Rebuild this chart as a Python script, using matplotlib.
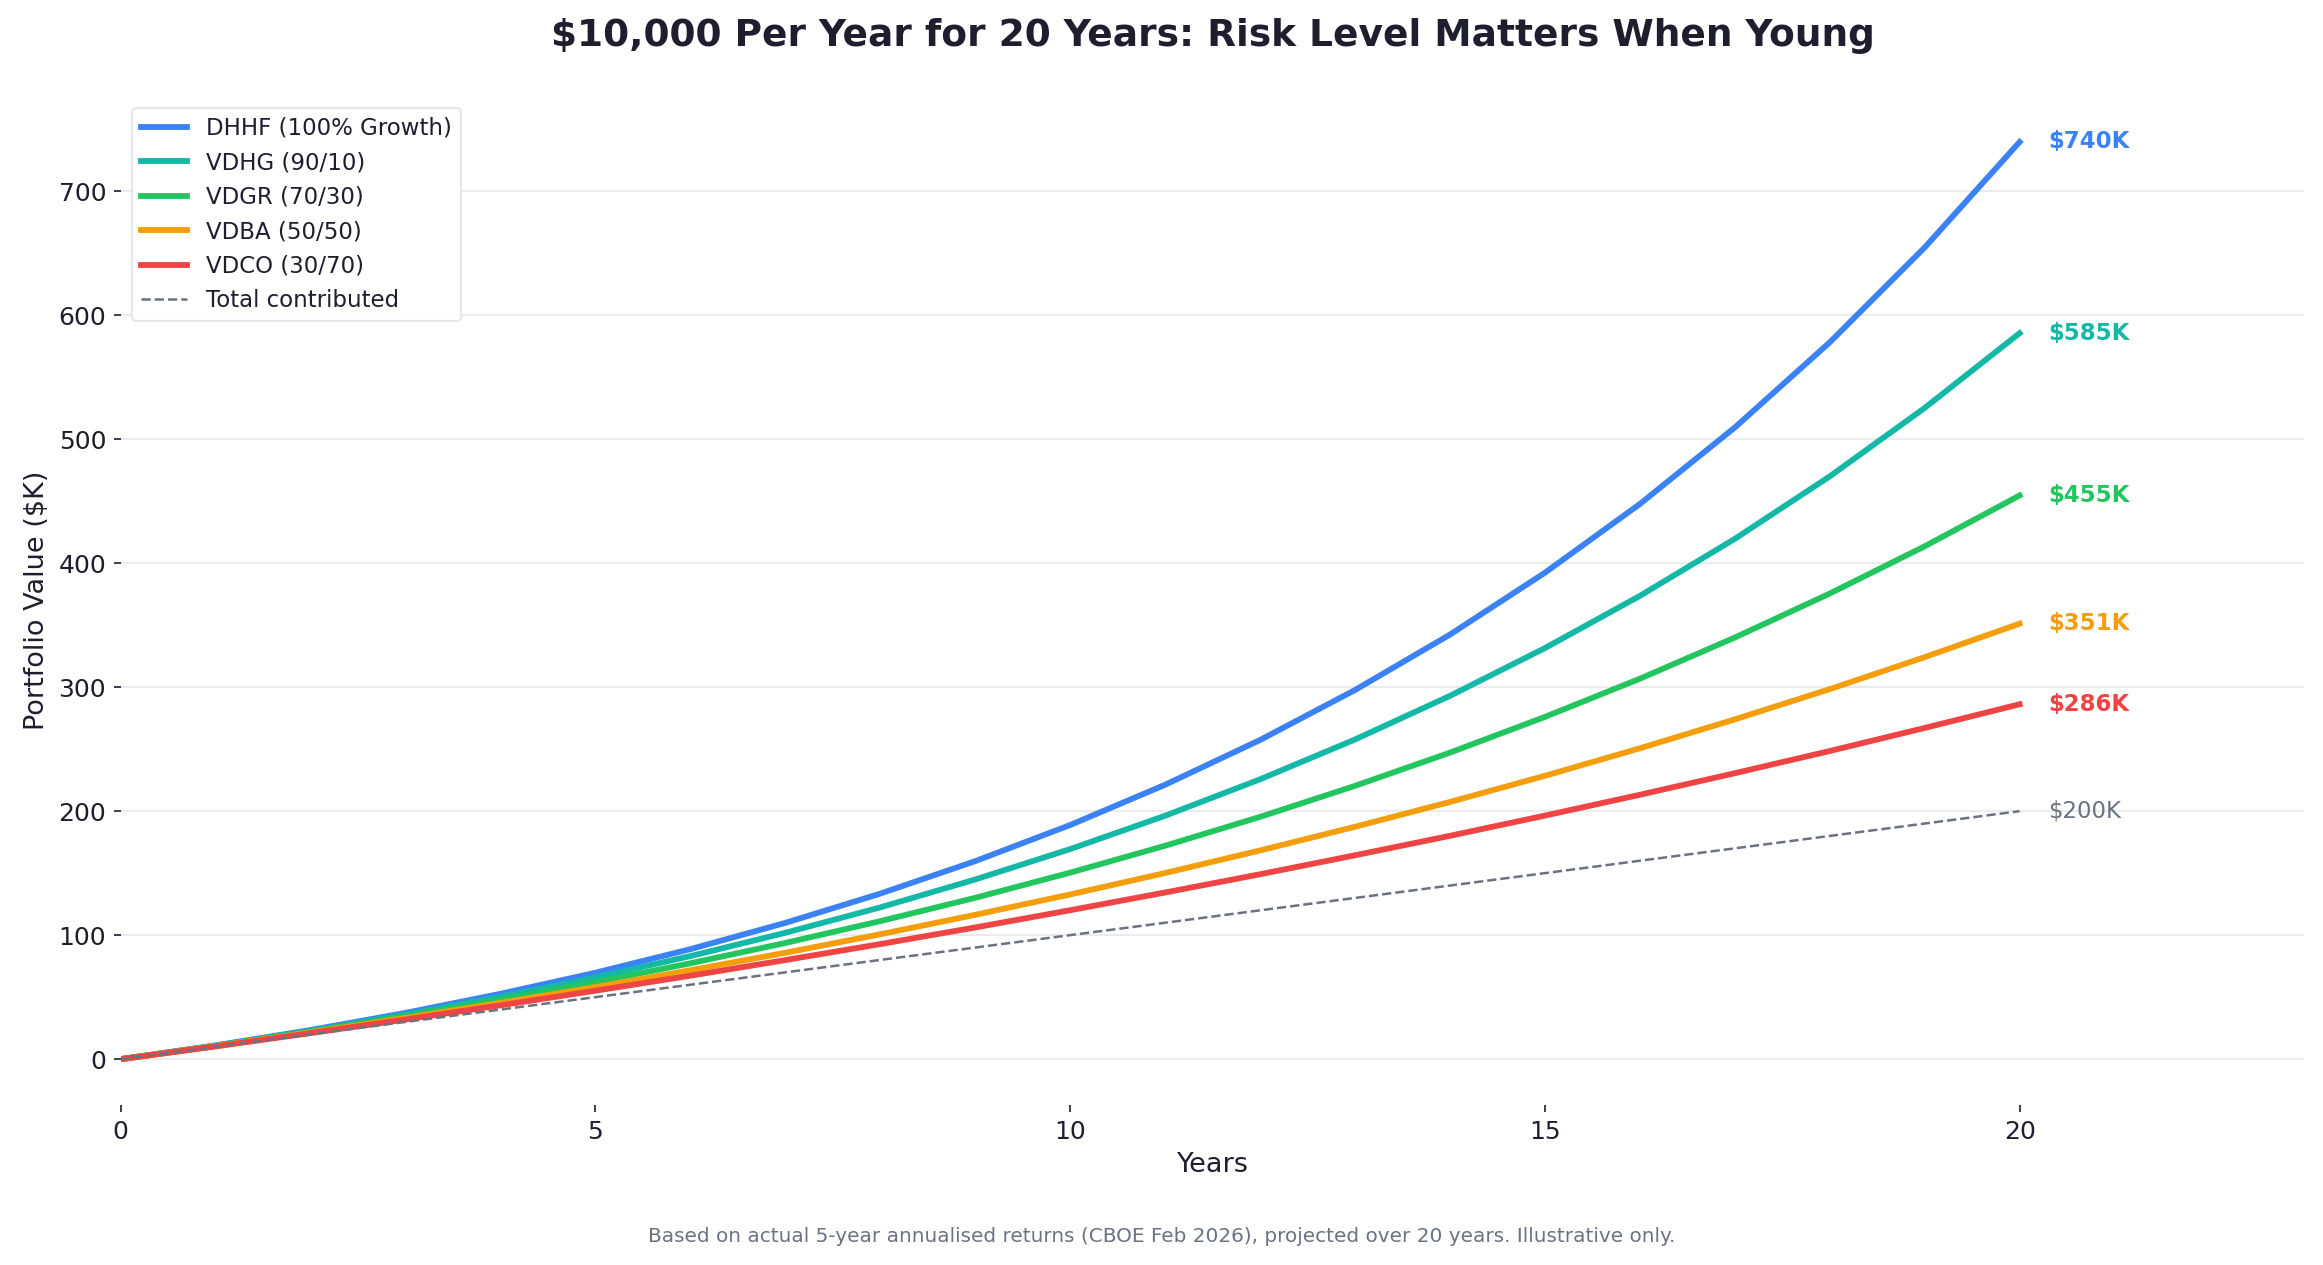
import matplotlib.pyplot as plt

# years and portfolio values ($K)
years = list(range(21))
dhhf = [0, 11.1, 23.5, 37.3, 52.7, 69.7, 88.7, 109.9, 133.5, 159.7, 188.8,
        221.3, 257.4, 297.7, 342.4, 392.3, 447.7, 509.4, 578.1, 654.6, 739.7]
vdhg = [0, 10.9, 22.9, 36.0, 50.3, 66.0, 83.1, 101.9, 122.4, 144.9, 169.4,
        196.3, 225.7, 257.8, 293.0, 331.5, 373.6, 419.6, 470.0, 525.2, 585.5]
vdgr = [0, 10.7, 22.2, 34.6, 47.9, 62.1, 77.3, 93.7, 111.3, 130.1, 150.4,
        172.1, 195.4, 220.4, 247.2, 276.0, 306.8, 340.0, 375.5, 413.6, 454.6]
vdba = [0, 10.5, 21.6, 33.2, 45.4, 58.2, 71.7, 85.8, 100.7, 116.4, 132.8,
        150.1, 168.3, 187.4, 207.4, 228.5, 250.7, 274.0, 298.4, 324.2, 351.2]
vdco = [0, 10.3, 21.0, 32.0, 43.4, 55.2, 67.3, 79.9, 92.8, 106.2, 120.1,
        134.4, 149.1, 164.4, 180.1, 196.4, 213.2, 230.6, 248.5, 267.1, 286.2]
contributed = [0, 10, 20, 30, 40, 50, 60, 70, 80, 90, 100,
               110, 120, 130, 140, 150, 160, 170, 180, 190, 200]

series_names = ["DHHF (100% Growth)", "VDHG (90/10)", "VDGR (70/30)", "VDBA (50/50)", "VDCO (30/70)"]
series_values = [dhhf, vdhg, vdgr, vdba, vdco]
series_colors = ["#3b82f6", "#14b8a6", "#22c55e", "#f59e0b", "#ef4444"]
end_labels = ["$740K", "$585K", "$455K", "$351K", "$286K"]

dark = "#1e1e2e"
gray = "#6b7280"

fig, ax = plt.subplots(figsize=(2323 / 150, 1265 / 150), dpi=150)
fig.subplots_adjust(left=0.052, right=0.992, bottom=0.1265, top=0.924)

for name, vals, col, lab in zip(series_names, series_values, series_colors, end_labels):
    ax.plot(years, vals, color=col, linewidth=2.8, label=name)
    ax.text(years[-1] + 0.3, vals[-1], lab, color=col, fontsize=11,
            fontweight='bold', va='center')

ax.plot(years, contributed, color=gray, linewidth=1.2, linestyle='--', label="Total contributed")
ax.text(years[-1] + 0.3, contributed[-1], "$200K", color=gray, fontsize=11, va='center')

ax.set_xlim(0, 23)
ax.set_xticks([0, 5, 10, 15, 20])
ax.set_yticks([0, 100, 200, 300, 400, 500, 600, 700])
ax.grid(axis='y', color='#e5e7eb', linewidth=0.8)
ax.set_axisbelow(True)
for s in ax.spines.values():
    s.set_visible(False)
ax.tick_params(colors=dark, labelsize=12)

ax.set_xlabel("Years", fontsize=13, color=dark)
ax.set_ylabel("Portfolio Value ($K)", fontsize=13, color=dark)
ax.set_title("$10,000 Per Year for 20 Years: Risk Level Matters When Young",
             fontsize=18, fontweight='bold', color=dark, pad=24)

leg = ax.legend(loc='upper left', fontsize=11, frameon=True, framealpha=1,
                edgecolor='#e5e7eb', labelcolor=dark)

fig.text(0.5, 0.018, "Based on actual 5-year annualised returns (CBOE Feb 2026), projected over 20 years. Illustrative only.",
         ha='center', fontsize=9.6, color=gray)

fig.savefig("out.png", dpi=150)
